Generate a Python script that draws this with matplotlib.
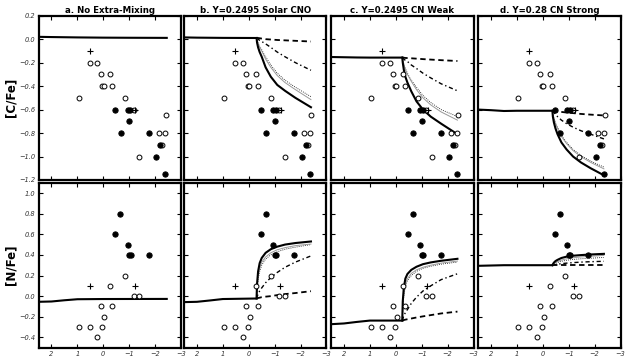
import matplotlib
matplotlib.use('Agg')
import matplotlib.pyplot as plt

plt.rcParams['font.style'] = 'italic'

# star data, x axis runs right to left
c_open_x = [0.95, 0.53, 0.23, 0.10, -0.26, 0.04, -0.01, -0.35, -0.85, -1.17, -1.39, -2.14, -2.37, -2.41, -2.28]
c_open_y = [-0.50, -0.20, -0.20, -0.30, -0.30, -0.40, -0.40, -0.40, -0.50, -0.60, -1.00, -0.80, -0.80, -0.65, -0.90]
c_fill_x = [-0.47, -0.68, -0.94, -1.04, -1.00, -1.76, -2.19, -2.04, -2.37]
c_fill_y = [-0.60, -0.80, -0.60, -0.60, -0.70, -0.80, -0.90, -1.00, -1.15]
c_plus_x = [0.53, -1.24]
c_plus_y = [-0.10, -0.60]

n_open_x = [-0.85, -0.26, -1.17, -1.39, 0.10, -0.35, -0.03, 0.95, 0.53, 0.04, 0.23]
n_open_y = [0.20, 0.10, 0.00, 0.00, -0.10, -0.10, -0.20, -0.30, -0.30, -0.30, -0.40]
n_fill_x = [-0.66, -0.47, -0.94, -1.00, -1.07, -1.76]
n_fill_y = [0.80, 0.60, 0.50, 0.40, 0.40, 0.40]
n_plus_x = [0.53, -1.22]
n_plus_y = [0.10, 0.10]

titles = ['a. No Extra-Mixing', 'b. Y=0.2495 Solar CNO',
          'c. Y=0.2495 CN Weak', 'd. Y=0.28 CN Strong']

# model tracks before the bump
pre_x_a = [2.5, 2.0, 1.0, 0.0, -1.0, -2.45]
pre_c_a = [0.020, 0.018, 0.015, 0.013, 0.012, 0.011]
pre_xn_a = [2.5, 2.0, 1.5, 1.0, 0.0, -2.45]
pre_n_a = [-0.055, -0.052, -0.040, -0.030, -0.028, -0.027]

pre_x_b = [2.5, 2.0, 1.5, 1.0, -0.30]
pre_c_b = [0.015, 0.013, 0.012, 0.011, 0.010]
pre_n_b = [-0.058, -0.055, -0.042, -0.028, -0.023]

pre_x_c = [2.5, 2.0, 1.5, 1.0, -0.25]
pre_c_c = [-0.152, -0.154, -0.156, -0.157, -0.157]
pre_n_c = [-0.272, -0.265, -0.250, -0.237, -0.237]

pre_x_d = [2.5, 2.0, 1.5, 1.0, -0.37]
pre_c_d = [-0.600, -0.605, -0.612, -0.610, -0.610]
pre_n_d = [0.294, 0.297, 0.300, 0.300, 0.300]

# tracks after the bump: solid, grey, dotted, dash-dot, dashed
mix_x_b = [-0.30, -0.32, -0.36, -0.42, -0.50, -0.65, -0.85, -1.1, -1.4, -1.8, -2.4]
b_c_solid = [0.01, -0.03, -0.07, -0.11, -0.15, -0.24, -0.32, -0.39, -0.44, -0.50, -0.58]
b_c_grey = [0.01, -0.01, -0.04, -0.07, -0.10, -0.17, -0.24, -0.31, -0.37, -0.43, -0.515]
b_c_dot = [0.01, -0.005, -0.03, -0.06, -0.09, -0.15, -0.22, -0.29, -0.35, -0.41, -0.49]
b_c_dashdot = [0.01, 0.005, 0.0, -0.01, -0.02, -0.04, -0.07, -0.11, -0.15, -0.20, -0.265]
b_c_dash = [0.01, 0.01, 0.01, 0.008, 0.005, 0.0, -0.003, -0.007, -0.01, -0.014, -0.02]
b_n_solid = [-0.023, 0.12, 0.24, 0.32, 0.37, 0.42, 0.455, 0.48, 0.50, 0.515, 0.53]
b_n_grey = [-0.023, 0.08, 0.19, 0.27, 0.33, 0.38, 0.42, 0.45, 0.47, 0.49, 0.505]
b_n_dot = [-0.023, 0.06, 0.16, 0.24, 0.30, 0.36, 0.40, 0.43, 0.455, 0.475, 0.50]
b_n_dashdot = [-0.023, -0.005, 0.02, 0.05, 0.08, 0.13, 0.18, 0.23, 0.28, 0.33, 0.39]
b_n_dash = [-0.023, -0.02, -0.018, -0.015, -0.01, -0.005, 0.0, 0.01, 0.02, 0.03, 0.048]

mix_x_c = [-0.25, -0.27, -0.31, -0.37, -0.45, -0.6, -0.8, -1.05, -1.35, -1.75, -2.38]
c_c_solid = [-0.157, -0.20, -0.26, -0.32, -0.37, -0.445, -0.53, -0.60, -0.66, -0.72, -0.81]
c_c_grey = [-0.157, -0.18, -0.22, -0.26, -0.30, -0.36, -0.43, -0.50, -0.56, -0.62, -0.69]
c_c_dot = [-0.157, -0.175, -0.21, -0.25, -0.29, -0.35, -0.41, -0.48, -0.54, -0.60, -0.66]
c_c_dashdot = [-0.157, -0.16, -0.17, -0.18, -0.19, -0.22, -0.25, -0.29, -0.33, -0.38, -0.44]
c_c_dash = [-0.157, -0.157, -0.158, -0.16, -0.161, -0.163, -0.166, -0.17, -0.174, -0.179, -0.186]
c_n_solid = [-0.237, -0.05, 0.08, 0.17, 0.215, 0.255, 0.285, 0.31, 0.327, 0.343, 0.362]
c_n_grey = [-0.237, -0.10, 0.03, 0.12, 0.17, 0.22, 0.255, 0.28, 0.30, 0.32, 0.34]
c_n_dot = [-0.237, -0.13, 0.0, 0.09, 0.15, 0.20, 0.24, 0.27, 0.29, 0.31, 0.33]
c_n_dashdot = [-0.237, -0.22, -0.19, -0.16, -0.13, -0.07, -0.01, 0.05, 0.10, 0.16, 0.217]
c_n_dash = [-0.237, -0.235, -0.232, -0.228, -0.224, -0.217, -0.207, -0.196, -0.184, -0.168, -0.15]

mix_x_d = [-0.37, -0.39, -0.43, -0.49, -0.57, -0.72, -0.92, -1.17, -1.47, -1.85, -2.36]
d_c_solid = [-0.61, -0.66, -0.71, -0.76, -0.81, -0.88, -0.94, -1.00, -1.05, -1.10, -1.16]
d_c_grey = [-0.61, -0.64, -0.68, -0.72, -0.76, -0.83, -0.89, -0.95, -1.00, -1.05, -1.105]
d_c_dot = [-0.61, -0.635, -0.67, -0.71, -0.75, -0.82, -0.88, -0.94, -0.99, -1.04, -1.09]
d_c_dashdot = [-0.61, -0.615, -0.625, -0.64, -0.66, -0.69, -0.72, -0.75, -0.78, -0.81, -0.85]
d_c_dash = [-0.61, -0.61, -0.612, -0.614, -0.616, -0.62, -0.625, -0.63, -0.637, -0.643, -0.65]
d_n_solid = [0.30, 0.31, 0.325, 0.34, 0.352, 0.37, 0.383, 0.392, 0.398, 0.404, 0.41]
d_n_grey = [0.30, 0.305, 0.315, 0.325, 0.335, 0.35, 0.362, 0.372, 0.38, 0.387, 0.395]
d_n_dot = [0.30, 0.303, 0.31, 0.318, 0.326, 0.338, 0.348, 0.356, 0.362, 0.368, 0.375]
d_n_dashdot = [0.30, 0.301, 0.303, 0.306, 0.31, 0.315, 0.32, 0.325, 0.33, 0.334, 0.338]
d_n_dash = [0.30, 0.30, 0.30, 0.30, 0.30, 0.30, 0.30, 0.30, 0.30, 0.30, 0.30]

W, H = 631, 363
fig = plt.figure(figsize=(W / 100, H / 100), dpi=100)

lefts = [38.5, 184, 331, 478]
pw = 142.5
rows = [(15.7, 180.0), (182.7, 347.7)]

styles = [dict(color='black', lw=1.5, ls='-'),
          dict(color='#999999', lw=0.7, ls='-'),
          dict(color='black', lw=0.6, ls=(0, (1, 1.5))),
          dict(color='black', lw=1.0, ls=(0, (3, 2, 1, 2))),
          dict(color='black', lw=1.3, ls=(0, (3, 2)))]

mix = {1: (mix_x_b, [b_c_solid, b_c_grey, b_c_dot, b_c_dashdot, b_c_dash],
           [b_n_solid, b_n_grey, b_n_dot, b_n_dashdot, b_n_dash]),
       2: (mix_x_c, [c_c_solid, c_c_grey, c_c_dot, c_c_dashdot, c_c_dash],
           [c_n_solid, c_n_grey, c_n_dot, c_n_dashdot, c_n_dash]),
       3: (mix_x_d, [d_c_solid, d_c_grey, d_c_dot, d_c_dashdot, d_c_dash],
           [d_n_solid, d_n_grey, d_n_dot, d_n_dashdot, d_n_dash])}
pre = {0: (pre_x_a, pre_c_a, pre_xn_a, pre_n_a),
       1: (pre_x_b, pre_c_b, pre_x_b, pre_n_b),
       2: (pre_x_c, pre_c_c, pre_x_c, pre_n_c),
       3: (pre_x_d, pre_c_d, pre_x_d, pre_n_d)}

for r in range(2):
    top, bot = rows[r]
    for i in range(4):
        ax = fig.add_axes([lefts[i] / W, 1 - bot / H, pw / W, (bot - top) / H])
        px, pc, pxn, pn = pre[i]
        if r == 0:
            ax.plot(px, pc, color='black', lw=1.5, zorder=2)
            ox, oy, fx, fy, qx, qy = c_open_x, c_open_y, c_fill_x, c_fill_y, c_plus_x, c_plus_y
        else:
            ax.plot(pxn, pn, color='black', lw=1.5, zorder=2)
            ox, oy, fx, fy, qx, qy = n_open_x, n_open_y, n_fill_x, n_fill_y, n_plus_x, n_plus_y
        if i in mix:
            mx, cs, ns = mix[i]
            ys = cs if r == 0 else ns
            for yv, st in reversed(list(zip(ys, styles))):
                ax.plot(mx, yv, zorder=2, **st)
        ax.plot(ox, oy, 'o', mfc='white', mec='black', ms=3.5, mew=0.7, zorder=3)
        ax.plot(fx, fy, 'o', mfc='black', mec='black', ms=3.8, mew=0.7, zorder=4)
        ax.plot(qx, qy, '+', color='black', ms=3.8, mew=0.8, zorder=4)

        ax.set_xlim(2.5, -3)
        ax.set_xticks([2, 1, 0, -1, -2, -3])
        if r == 0:
            ax.set_ylim(-1.2, 0.2)
            ax.set_yticks([0.2, 0.0, -0.2, -0.4, -0.6, -0.8, -1.0, -1.2])
            ax.set_title(titles[i], fontsize=6.2, fontweight='bold',
                         fontstyle='normal', pad=2)
        else:
            ax.set_ylim(-0.5, 1.1)
            ax.set_yticks([-0.4, -0.2, 0.0, 0.2, 0.4, 0.6, 0.8, 1.0])
        for s in ax.spines.values():
            s.set_linewidth(1.6)
        ax.tick_params(direction='in', top=True, right=True, length=3, width=0.8,
                       labelsize=4.8, labelcolor='#333333', pad=2.5)
        if r == 0:
            ax.tick_params(labelbottom=False)
        if i > 0:
            ax.tick_params(labelleft=False)
        else:
            ax.set_ylabel('[C/Fe]' if r == 0 else '[N/Fe]', fontsize=8.5,
                          fontweight='bold', fontstyle='normal', labelpad=1)

fig.savefig('out.png', dpi=100)
